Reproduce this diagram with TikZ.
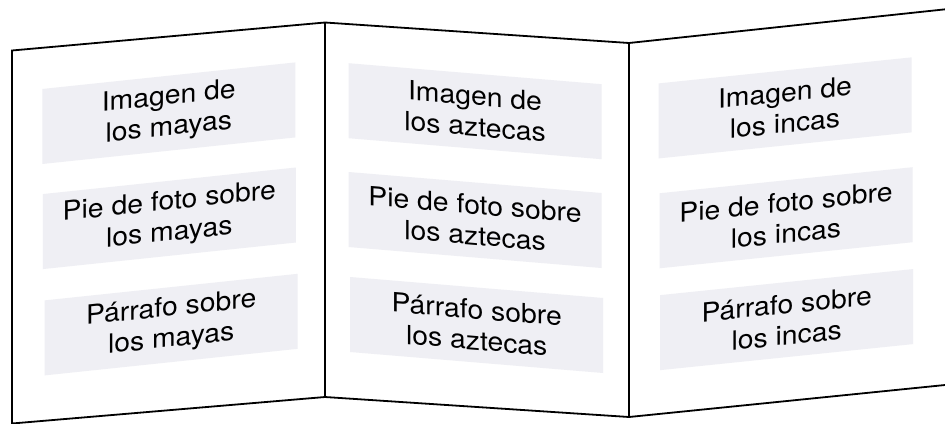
\documentclass[tikz,border=0pt]{standalone}
\usepackage{fontspec}
\newfontfamily\boxfont{TeX Gyre Heros}[FakeStretch=1.07]
\definecolor{boxgray}{RGB}{239,239,244}
\tikzset{
  panelline/.style={line width=1.8pt, line join=miter, draw=black},
  pbox/.style={fill=boxgray, minimum width=253pt, minimum height=75pt, inner sep=0pt,
    align=center, text=black, font=\boxfont\fontsize{26.5}{31}\selectfont},
  lslant/.style={yslant=0.105},
  mslant/.style={yslant=-0.083},
  rslant/.style={yslant=0.103}
}
\begin{document}
\begin{tikzpicture}[x=1pt,y=-1pt]
\clip (0,0) rectangle (945,423);
\fill[white] (0,0) rectangle (945,423);
% panels
\coordinate (rt) at (950,8.8);
\coordinate (mt2) at (629,43);
\coordinate (mt1) at (325,22.5);
\coordinate (lt) at (12,50.5);
\coordinate (lb) at (12,423.5);
\coordinate (mb1) at (325,397);
\coordinate (mb2) at (629,417);
\coordinate (rb) at (950,384.5);
\draw[panelline] (rt) -- (mt2) -- (mt1) -- (lt) -- (lb) -- (mb1) -- (mb2) -- (rb);
\draw[panelline] (mt1) -- (mb1);
\draw[panelline] (mt2) -- (mb2);
% left panel
\node[pbox, lslant] (l1) at (168.8,113.2) {Imagen de\\los mayas};
\node[pbox, lslant] (l2) at (169.3,218.3) {Pie de foto sobre\\los mayas};
\node[pbox, lslant] (l3) at (171.2,324.6) {Párrafo sobre\\los mayas};
% middle panel
\node[pbox, mslant] (m1) at (475,111.2) {Imagen de\\los aztecas};
\node[pbox, mslant] (m2) at (475,220) {Pie de foto sobre\\los aztecas};
\node[pbox, mslant] (m3) at (476.7,325) {Párrafo sobre\\los aztecas};
% right panel
\node[pbox, rslant] (r1) at (785,107.9) {Imagen de\\los incas};
\node[pbox, rslant] (r2) at (786,217.75) {Pie de foto sobre\\los incas};
\node[pbox, rslant] (r3) at (786.7,319.6) {Párrafo sobre\\los incas};
\end{tikzpicture}
\end{document}
